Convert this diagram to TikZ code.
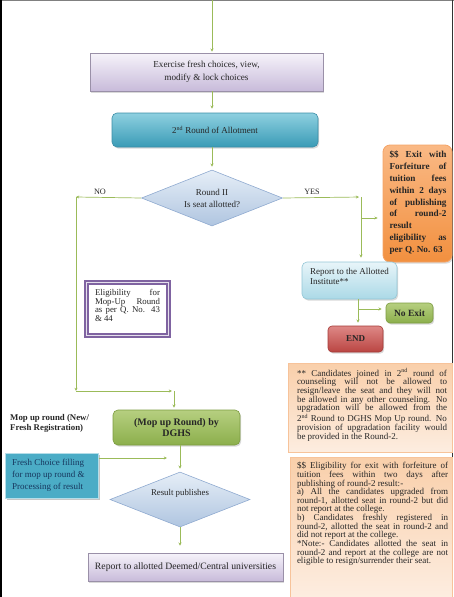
\documentclass[tikz,border=0pt]{standalone}
\usepackage{fontspec}
\setmainfont{Liberation Serif}
\usetikzlibrary{shapes.geometric,arrows.meta,shadows}
\definecolor{connc}{HTML}{9BBB59}
\definecolor{lavtop}{HTML}{F6F3FA}
\definecolor{lavbot}{HTML}{C8BBDA}
\definecolor{lavdraw}{HTML}{9A90A8}
\definecolor{tealtop}{HTML}{8ED0E0}
\definecolor{tealbot}{HTML}{3A9BB6}
\definecolor{tealdraw}{HTML}{3B8DA6}
\definecolor{diatop}{HTML}{E6EEF7}
\definecolor{diabot}{HTML}{AFC5E0}
\definecolor{diadraw}{HTML}{8FAAD0}
\definecolor{orgtop}{HTML}{FAB985}
\definecolor{orgbot}{HTML}{F2903F}
\definecolor{orgdraw}{HTML}{F4A366}
\definecolor{reptop}{HTML}{E8F5F9}
\definecolor{repbot}{HTML}{ABD9E7}
\definecolor{repdraw}{HTML}{93C6D6}
\definecolor{grntop}{HTML}{B6CF80}
\definecolor{grnbot}{HTML}{8CAF4C}
\definecolor{grndraw}{HTML}{7C9C40}
\definecolor{redtop}{HTML}{DE8886}
\definecolor{redbot}{HTML}{BA4542}
\definecolor{reddraw}{HTML}{A43936}
\definecolor{purp}{HTML}{7F63A1}
\definecolor{peachtop}{HTML}{F9CFAA}
\definecolor{peachbot}{HTML}{FDEDE0}
\definecolor{peachdraw}{HTML}{F7C39A}
\definecolor{freshc}{HTML}{4BACC6}
\definecolor{freshdraw}{HTML}{B5DDE8}
\definecolor{freshtext}{HTML}{17375E}
\definecolor{textc}{HTML}{262626}
\newcommand\myfs[2]{\fontsize{#1}{#2}\selectfont}
\begin{document}
\begin{tikzpicture}[x=1pt,y=-1pt,
  every node/.style={inner sep=0pt, text=textc},
  conn/.style={draw=connc, line width=0.7pt, -{Stealth[length=3.2pt,width=3pt]}},
  shad/.style={drop shadow={opacity=0.3, shadow xshift=1.2pt, shadow yshift=-1.6pt}},
  lavbox/.style={rectangle, top color=lavtop, bottom color=lavbot, draw=lavdraw, line width=0.6pt, shad},
  tealbox/.style={rectangle, rounded corners=5pt, top color=tealtop, bottom color=tealbot, draw=tealdraw, line width=0.6pt, shad},
  diabox/.style={diamond, aspect=2.5, top color=diatop, bottom color=diabot, draw=diadraw, line width=0.6pt},
  orgbox/.style={rectangle, rounded corners=7pt, top color=orgtop, bottom color=orgbot, draw=orgdraw, line width=0.8pt, shad},
  repbox/.style={rectangle, rounded corners=5pt, top color=reptop, bottom color=repbot, draw=repdraw, line width=0.6pt, shad},
  grnbox/.style={rectangle, rounded corners=4pt, top color=grntop, bottom color=grnbot, draw=grndraw, line width=0.6pt, shad},
  redbox/.style={rectangle, rounded corners=4pt, top color=redtop, bottom color=redbot, draw=reddraw, line width=0.6pt, shad},
  purpbox/.style={rectangle, fill=white, draw=purp, line width=2.6pt, double=white!80!purp, double distance=0.7pt, shad},
  peachbox/.style={rectangle, top color=peachtop, bottom color=peachbot, draw=peachdraw, line width=0.6pt},
  freshbox/.style={rectangle, fill=freshc, draw=freshdraw, line width=1pt, drop shadow={opacity=0.45, shadow xshift=1.8pt, shadow yshift=-1.8pt}},
  jtext/.style={align=justify, anchor=north},
  lbl/.style={font=\myfs{8.2}{10}}
]
\useasboundingbox (0,0) rectangle (454,597);
% frame
\draw[gray, line width=0.8pt] (0,0.4) -- (454,0.4);
\draw[black, line width=1.6pt] (0.8,0) -- (0.8,597);
\draw[black!80, line width=0.8pt] (452.8,0) -- (452.8,597);

% top chain
\coordinate (start) at (212,0);
\node[lavbox, minimum width=233pt, minimum height=38pt, align=center, font=\myfs{9.2}{13}] (box1) at (206.5,72) {Exercise fresh choices, view,\\modify \& lock choices};
\node[tealbox, minimum width=206pt, minimum height=34pt, font=\myfs{9}{11}] (box2) at (215,130) {2\textsuperscript{nd} Round of Allotment};
\node[diabox, minimum width=141pt, minimum height=56pt, align=center, font=\myfs{9}{12}] (d1) at (212,198) {Round II\\Is seat allotted?};

\draw[conn, shorten >=1pt] (start) -- (box1.north -| start);
\draw[conn, shorten >=4pt] (box1.south -| start) -- (box2.north -| start);
\draw[conn, shorten >=3pt] (box2.south -| d1.north) -- (d1.north);

% NO branch
\coordinate (noturn) at (76,197);
\coordinate (nobot) at (76,391);
\coordinate (mopjoin) at (174,391);
\node[lbl] (nolbl) at (100,192) {NO};
\draw[conn] (d1.west) -- (noturn);
\draw[conn] (noturn) -- (nobot);
\draw[conn, shorten >=2pt] (nobot) -- (mopjoin);

% YES branch
\coordinate (yesturn) at (361,197);
\coordinate (exitfork) at (361,218);
\node[lbl] (yeslbl) at (312,192) {YES};
\draw[conn, shorten >=2pt] (d1.east) -- (yesturn);

\node[orgbox, minimum width=69pt, minimum height=117pt] (exit) at (417.5,203.5) {};
\node[jtext, text width=57pt, font=\bfseries\myfs{9.2}{11.8}] (exittext) at (418,151) {\$\$ Exit with\linebreak Forfeiture of\linebreak tuition fees\linebreak within 2 days\linebreak of publishing\linebreak of round-2\linebreak result\\ eligibility as\linebreak per Q. No. 63};

\node[repbox, minimum width=95pt, minimum height=37pt] (report) at (349.5,280.5) {};
\node[anchor=north west, align=left, font=\myfs{9}{10}] (reporttext) at (310,268) {Report to the Allotted\\Institute**};

\draw[conn, shorten >=4pt] (yesturn) -- (report.north -| yesturn);
\draw[conn, shorten >=5pt] (exitfork) -- (exit.west |- exitfork);

% report outcomes
\node[grnbox, minimum width=47pt, minimum height=20pt, font=\bfseries\myfs{9.5}{11}] (noexit) at (409.5,313) {No Exit};
\node[redbox, minimum width=55pt, minimum height=26pt, font=\bfseries\myfs{9}{11}] (endb) at (355.5,339) {END};
\coordinate (repout) at (358,299);
\coordinate (repfork) at (358,309);
\draw[conn, shorten >=3pt] (repout) -- (endb.north -| repout);
\draw[conn, shorten >=4pt] (repfork) -- (noexit.west |- repfork);

% eligibility box
\node[purpbox, minimum width=82pt, minimum height=53pt] (elig) at (127.5,309) {};
\node[jtext, text width=65pt, font=\myfs{8.8}{8.7}] (eligtext) at (127.5,289) {Eligibility for\linebreak Mop-Up Round\linebreak as per Q. No. 43\linebreak \& 44};

% note 1
\node[peachbox, minimum width=164pt, minimum height=89pt] (note1) at (370,407.5) {};
\node[jtext, text width=150pt, font=\myfs{9}{8.7}] (note1text) at (372,368) {** Candidates joined in 2\textsuperscript{nd} round of\linebreak counseling will not be allowed to\linebreak resign/leave the seat and they will not\linebreak be allowed in any other counseling. No\linebreak upgradation will be allowed from the\linebreak 2\textsuperscript{nd} Round to DGHS Mop Up round. No\linebreak provision of upgradation facility would\linebreak be provided in the Round-2.};

% note 2
\node[peachbox, minimum width=162pt, minimum height=140pt] (note2) at (371,527) {};
\node[jtext, text width=151pt, font=\myfs{9}{8.65}] (note2text) at (372.5,462) {\$\$ Eligibility for exit with forfeiture of\linebreak tuition fees within two days after\linebreak publishing of round-2 result:-\\{}a) All the candidates upgraded from\linebreak round-1, allotted seat in round-2 but did\linebreak not report at the college.\\{}b) Candidates freshly registered in\linebreak round-2, allotted the seat in round-2 and\linebreak did not report at the college.\\{}*Note:- Candidates allotted the seat in\linebreak round-2 and report at the college are not\linebreak eligible to resign/surrender their seat.};

% mop up
\node[anchor=north west, align=left, font=\bfseries\myfs{8.8}{10}] (moplbl) at (10,414) {Mop up round (New/\\Fresh Registration)};
\node[grnbox, rounded corners=5pt, minimum width=127pt, minimum height=35pt, align=center, font=\bfseries\myfs{10}{10.5}] (mop) at (176.5,427.5) {(Mop up Round) by\\DGHS};
\draw[conn, shorten >=2pt] (mopjoin) -- (mopjoin |- mop.north);

\node[freshbox, minimum width=93pt, minimum height=45pt] (fresh) at (51.5,475.5) {};
\node[anchor=north west, align=left, text=freshtext, font=\myfs{9}{12}] (freshtext) at (12,459) {Fresh Choice filling\\for mop up round \&\\Processing of result};

\node[diabox, minimum width=140pt, minimum height=55pt] (d2) at (180,499.5) {};
\node[font=\myfs{8.8}{10}] (d2text) at (180,493) {Result publishes};
\coordinate (freshtip) at (167,458);
\draw[conn] (fresh.east |- freshtip) -- (freshtip);
\draw[conn, shorten >=3pt] (mop.south -| d2.north) -- (d2.north);

\node[lavbox, minimum width=195pt, minimum height=28pt, font=\myfs{9.7}{11}] (final) at (185.5,567) {Report to allotted Deemed/Central universities};
\draw[conn, shorten >=7pt] (d2.south) -- (final.north -| d2.south);
\end{tikzpicture}
\end{document}
